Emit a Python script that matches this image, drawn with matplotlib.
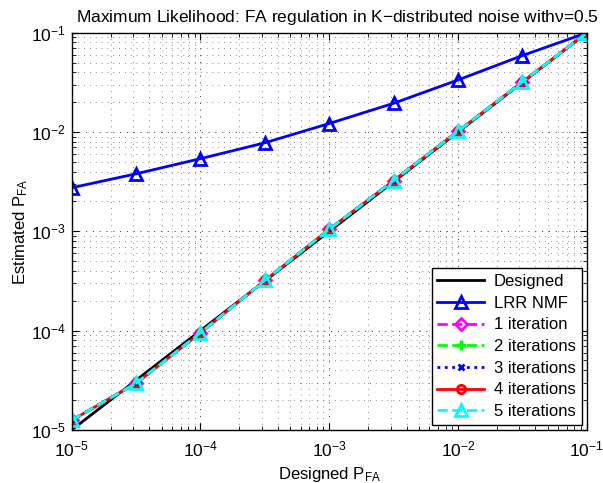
import numpy as np
import matplotlib
matplotlib.use("Agg")
import matplotlib.pyplot as plt
from matplotlib.ticker import LogLocator, LogFormatterSciNotation, NullFormatter

plt.rcParams['font.family'] = ['Liberation Sans', 'DejaVu Sans']
plt.rcParams['mathtext.fontset'] = 'custom'
plt.rcParams['mathtext.rm'] = 'Liberation Sans'
plt.rcParams['mathtext.it'] = 'Liberation Sans:italic'
plt.rcParams['mathtext.default'] = 'regular'

designed_pfa = [1e-5, 3.16e-5, 1e-4, 3.16e-4, 1e-3, 3.16e-3, 1e-2, 3.16e-2, 1e-1]
lrr_nmf = [2.75e-3, 3.8e-3, 5.4e-3, 7.8e-3, 1.22e-2, 1.95e-2, 3.35e-2, 5.9e-2, 1e-1]
iter1 = [1.25e-5, 2.95e-5, 9.5e-5, 3.2e-4, 1.05e-3, 3.25e-3, 1.02e-2, 3.2e-2, 1e-1]
iter2 = [1.25e-5, 2.95e-5, 9.5e-5, 3.2e-4, 1.05e-3, 3.25e-3, 1.02e-2, 3.2e-2, 1e-1]
iter3 = [1.25e-5, 2.95e-5, 9.5e-5, 3.2e-4, 1.05e-3, 3.25e-3, 1.02e-2, 3.2e-2, 1e-1]
iter4 = [1.25e-5, 2.95e-5, 9.5e-5, 3.2e-4, 1.05e-3, 3.25e-3, 1.02e-2, 3.2e-2, 1e-1]
iter5 = [1.25e-5, 2.95e-5, 9.5e-5, 3.2e-4, 1.05e-3, 3.25e-3, 1.02e-2, 3.2e-2, 1e-1]

fig = plt.figure(figsize=(6.03, 4.83), dpi=100)
ax = fig.add_axes([0.119, 0.110, 0.854, 0.822])

lw = 2
ax.plot(designed_pfa, designed_pfa, '-', color='black', lw=lw, label='Designed')
ax.plot(designed_pfa, lrr_nmf, '-', color='#0000ff', lw=lw, marker='^', ms=8,
        mfc='none', mew=2, label='LRR NMF')
ax.plot(designed_pfa, iter1, '--', color='#ff00ff', lw=lw, marker='D', ms=6,
        mfc='none', mew=2, label='1 iteration')
ax.plot(designed_pfa, iter2, '--', color='#00ff00', lw=lw, marker='+', ms=7,
        mew=2.5, label='2 iterations')
ax.plot(designed_pfa, iter3, ':', color='#0000ff', lw=lw, marker='x', ms=5,
        mew=2, label='3 iterations')
ax.plot(designed_pfa, iter4, '-', color='#ff0000', lw=lw, marker='o', ms=6,
        mfc='none', mew=2, label='4 iterations')
ax.plot(designed_pfa, iter5, '--', color='#00ffff', lw=lw, marker='^', ms=8,
        mfc='none', mew=2, label='5 iterations')

ax.set_xscale('log')
ax.set_yscale('log')
ax.set_xlim(1e-5, 1e-1)
ax.set_ylim(1e-5, 1e-1)

for axis in (ax.xaxis, ax.yaxis):
    axis.set_major_locator(LogLocator(base=10, numticks=10))
    axis.set_minor_locator(LogLocator(base=10, subs=np.arange(2, 10), numticks=20))
    axis.set_major_formatter(LogFormatterSciNotation())
    axis.set_minor_formatter(NullFormatter())

ax.tick_params(which='both', direction='in', top=True, right=True, labelsize=12.5)
ax.tick_params(axis='x', which='major', pad=7)
ax.tick_params(axis='y', which='major', pad=4)
ax.tick_params(which='major', length=5)
ax.tick_params(which='minor', length=3)
ax.grid(True, which='major', linestyle=(0, (1, 6)), color='#333333', lw=0.7)
ax.grid(True, which='minor', linestyle=(0, (1, 6)), color='#666666', lw=0.6)
for s in ax.spines.values():
    s.set_linewidth(1.0)

ax.set_xlabel(r'Designed P$_{\mathrm{FA}}$', fontsize=12)
ax.set_ylabel(r'Estimated P$_{\mathrm{FA}}$', fontsize=12, labelpad=1)
ax.set_title(r'Maximum Likelihood: FA regulation in K$-$distributed noise with$\nu$=0.5',
             fontsize=12.5, pad=8, x=0.515)

leg = ax.legend(loc='lower right', fontsize=12, fancybox=False, framealpha=1,
                edgecolor='black', borderaxespad=0.3, handlelength=2.8,
                labelspacing=0.4, borderpad=0.35, handletextpad=0.6)
leg.get_frame().set_linewidth(1.0)

fig.savefig('out.png', dpi=100)
